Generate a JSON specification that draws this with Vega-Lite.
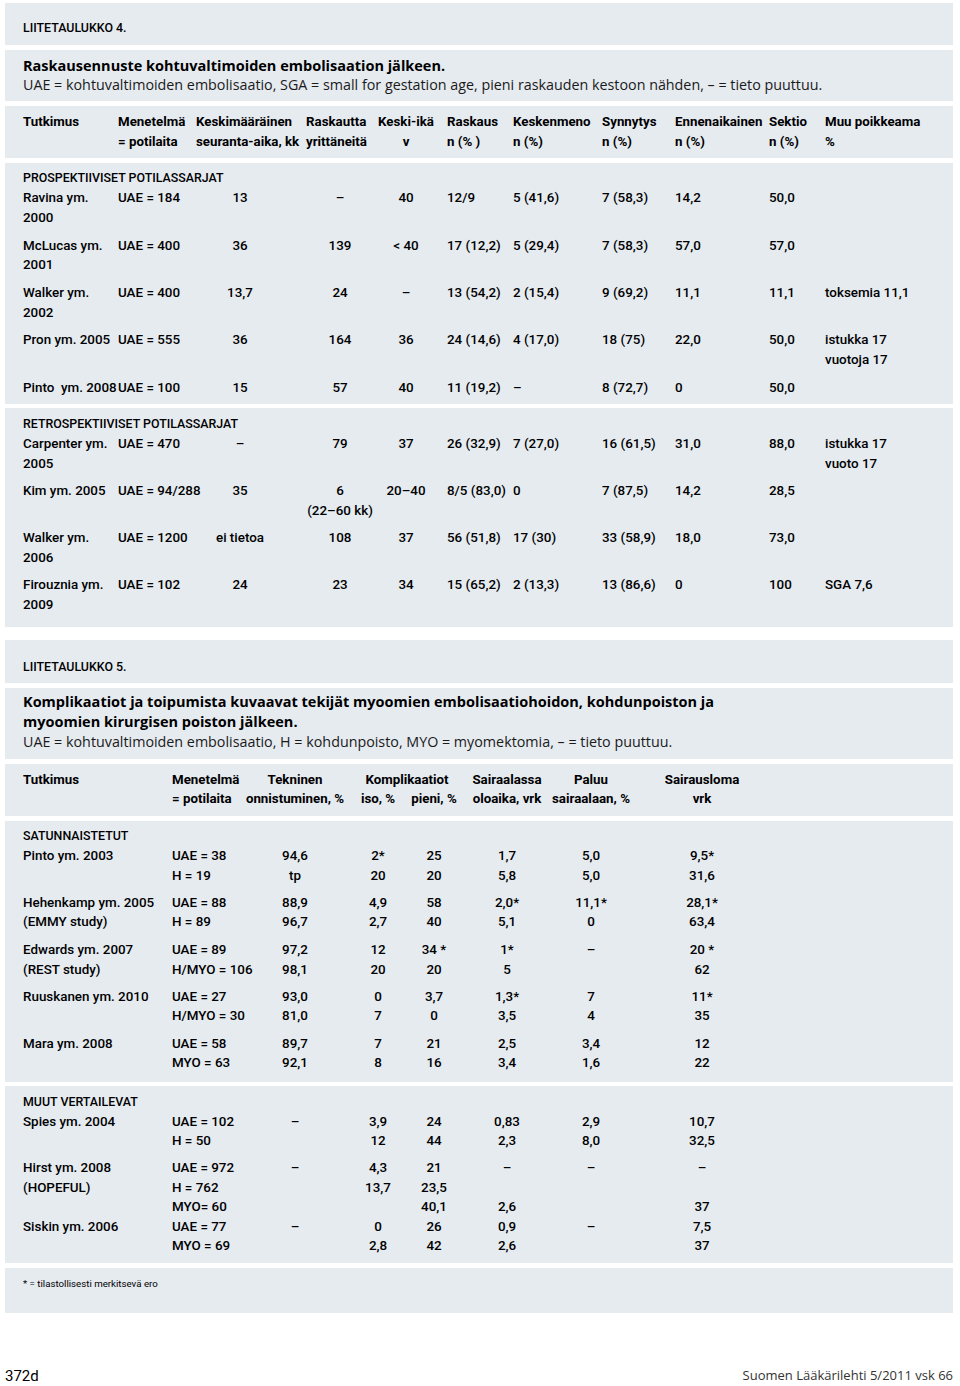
{
  "$schema": "https://vega.github.io/schema/vega-lite/v6.json",
  "width": 960,
  "height": 1386,
  "autosize": {"type": "fit", "contains": "padding"},
  "padding": 0,
  "background": "white",
  "config": {"view": {"stroke": null}},
  "resolve": {"scale": {"y": "independent"}},
  "datasets": {
    "boxes": [
      {"e1": 0, "e2": 1}, {"e1": 2, "e2": 3}, {"e1": 4, "e2": 5}, {"e1": 6, "e2": 7}, {"e1": 8, "e2": 9},
      {"e1": 10, "e2": 11}, {"e1": 12, "e2": 13}, {"e1": 14, "e2": 15}, {"e1": 16, "e2": 17}, {"e1": 18, "e2": 19}, {"e1": 20, "e2": 21}
    ],
    "cells": [
      {"r": 0, "c": 1, "k": "label", "s": "LIITETAULUKKO 4."},
      {"r": 1, "c": 1, "k": "title", "s": "Raskausennuste kohtuvaltimoiden embolisaation jälkeen."},
      {"r": 2, "c": 1, "k": "sub", "s": "UAE = kohtuvaltimoiden embolisaatio, SGA = small for gestation age, pieni raskauden kestoon nähden, – = tieto puuttuu."},
      {"r": 3, "c": 1, "k": "head", "s": "Tutkimus"},
      {"r": 3, "c": 2, "k": "head", "s": "Menetelmä"},
      {"r": 3, "c": 3, "k": "head", "s": "Keskimääräinen"},
      {"r": 3, "c": 4, "k": "head", "s": "Raskautta"},
      {"r": 3, "c": 23, "k": "head", "s": "Keski-ikä"},
      {"r": 3, "c": 5, "k": "head", "s": "Raskaus"},
      {"r": 3, "c": 6, "k": "head", "s": "Keskenmeno"},
      {"r": 3, "c": 7, "k": "head", "s": "Synnytys"},
      {"r": 3, "c": 8, "k": "head", "s": "Ennenaikainen"},
      {"r": 3, "c": 9, "k": "head", "s": "Sektio"},
      {"r": 3, "c": 10, "k": "head", "s": "Muu poikkeama"},
      {"r": 4, "c": 2, "k": "head", "s": "= potilaita"},
      {"r": 4, "c": 3, "k": "head", "s": "seuranta-aika, kk"},
      {"r": 4, "c": 4, "k": "head", "s": "yrittäneitä"},
      {"r": 4, "c": 23, "k": "head", "s": "v"},
      {"r": 4, "c": 5, "k": "head", "s": "n (% )"},
      {"r": 4, "c": 6, "k": "head", "s": "n (%)"},
      {"r": 4, "c": 7, "k": "head", "s": "n (%)"},
      {"r": 4, "c": 8, "k": "head", "s": "n (%)"},
      {"r": 4, "c": 9, "k": "head", "s": "n (%)"},
      {"r": 4, "c": 10, "k": "head", "s": "%"},
      {"r": 5, "c": 1, "k": "sect", "s": "PROSPEKTIIVISET POTILASSARJAT"},
      {"r": 6, "c": 1, "k": "body", "s": "Ravina ym."},
      {"r": 6, "c": 2, "k": "body", "s": "UAE = 184"},
      {"r": 6, "c": 21, "k": "body", "s": "13"},
      {"r": 6, "c": 22, "k": "body", "s": "–"},
      {"r": 6, "c": 23, "k": "body", "s": "40"},
      {"r": 6, "c": 5, "k": "body", "s": "12/9"},
      {"r": 6, "c": 6, "k": "body", "s": "5 (41,6)"},
      {"r": 6, "c": 7, "k": "body", "s": "7 (58,3)"},
      {"r": 6, "c": 8, "k": "body", "s": "14,2"},
      {"r": 6, "c": 9, "k": "body", "s": "50,0"},
      {"r": 7, "c": 1, "k": "body", "s": "2000"},
      {"r": 8, "c": 1, "k": "body", "s": "McLucas ym."},
      {"r": 8, "c": 2, "k": "body", "s": "UAE = 400"},
      {"r": 8, "c": 21, "k": "body", "s": "36"},
      {"r": 8, "c": 22, "k": "body", "s": "139"},
      {"r": 8, "c": 23, "k": "body", "s": "< 40"},
      {"r": 8, "c": 5, "k": "body", "s": "17 (12,2)"},
      {"r": 8, "c": 6, "k": "body", "s": "5 (29,4)"},
      {"r": 8, "c": 7, "k": "body", "s": "7 (58,3)"},
      {"r": 8, "c": 8, "k": "body", "s": "57,0"},
      {"r": 8, "c": 9, "k": "body", "s": "57,0"},
      {"r": 9, "c": 1, "k": "body", "s": "2001"},
      {"r": 10, "c": 1, "k": "body", "s": "Walker ym."},
      {"r": 10, "c": 2, "k": "body", "s": "UAE = 400"},
      {"r": 10, "c": 21, "k": "body", "s": "13,7"},
      {"r": 10, "c": 22, "k": "body", "s": "24"},
      {"r": 10, "c": 23, "k": "body", "s": "–"},
      {"r": 10, "c": 5, "k": "body", "s": "13 (54,2)"},
      {"r": 10, "c": 6, "k": "body", "s": "2 (15,4)"},
      {"r": 10, "c": 7, "k": "body", "s": "9 (69,2)"},
      {"r": 10, "c": 8, "k": "body", "s": "11,1"},
      {"r": 10, "c": 9, "k": "body", "s": "11,1"},
      {"r": 10, "c": 10, "k": "body", "s": "toksemia 11,1"},
      {"r": 11, "c": 1, "k": "body", "s": "2002"},
      {"r": 12, "c": 1, "k": "body", "s": "Pron ym. 2005"},
      {"r": 12, "c": 2, "k": "body", "s": "UAE = 555"},
      {"r": 12, "c": 21, "k": "body", "s": "36"},
      {"r": 12, "c": 22, "k": "body", "s": "164"},
      {"r": 12, "c": 23, "k": "body", "s": "36"},
      {"r": 12, "c": 5, "k": "body", "s": "24 (14,6)"},
      {"r": 12, "c": 6, "k": "body", "s": "4 (17,0)"},
      {"r": 12, "c": 7, "k": "body", "s": "18 (75)"},
      {"r": 12, "c": 8, "k": "body", "s": "22,0"},
      {"r": 12, "c": 9, "k": "body", "s": "50,0"},
      {"r": 12, "c": 10, "k": "body", "s": "istukka 17"},
      {"r": 13, "c": 10, "k": "body", "s": "vuotoja 17"},
      {"r": 14, "c": 1, "k": "body", "s": "Pinto\u00a0 ym. 2008"},
      {"r": 14, "c": 2, "k": "body", "s": "UAE = 100"},
      {"r": 14, "c": 21, "k": "body", "s": "15"},
      {"r": 14, "c": 22, "k": "body", "s": "57"},
      {"r": 14, "c": 23, "k": "body", "s": "40"},
      {"r": 14, "c": 5, "k": "body", "s": "11 (19,2)"},
      {"r": 14, "c": 6, "k": "body", "s": "–"},
      {"r": 14, "c": 7, "k": "body", "s": "8 (72,7)"},
      {"r": 14, "c": 8, "k": "body", "s": "0"},
      {"r": 14, "c": 9, "k": "body", "s": "50,0"},
      {"r": 15, "c": 1, "k": "sect", "s": "RETROSPEKTIIVISET POTILASSARJAT"},
      {"r": 16, "c": 1, "k": "body", "s": "Carpenter ym."},
      {"r": 16, "c": 2, "k": "body", "s": "UAE = 470"},
      {"r": 16, "c": 21, "k": "body", "s": "–"},
      {"r": 16, "c": 22, "k": "body", "s": "79"},
      {"r": 16, "c": 23, "k": "body", "s": "37"},
      {"r": 16, "c": 5, "k": "body", "s": "26 (32,9)"},
      {"r": 16, "c": 6, "k": "body", "s": "7 (27,0)"},
      {"r": 16, "c": 7, "k": "body", "s": "16 (61,5)"},
      {"r": 16, "c": 8, "k": "body", "s": "31,0"},
      {"r": 16, "c": 9, "k": "body", "s": "88,0"},
      {"r": 16, "c": 10, "k": "body", "s": "istukka 17"},
      {"r": 17, "c": 1, "k": "body", "s": "2005"},
      {"r": 17, "c": 10, "k": "body", "s": "vuoto 17"},
      {"r": 18, "c": 1, "k": "body", "s": "Kim ym. 2005"},
      {"r": 18, "c": 2, "k": "body", "s": "UAE = 94/288"},
      {"r": 18, "c": 21, "k": "body", "s": "35"},
      {"r": 18, "c": 22, "k": "body", "s": "6"},
      {"r": 18, "c": 23, "k": "body", "s": "20–40"},
      {"r": 18, "c": 5, "k": "body", "s": "8/5 (83,0)"},
      {"r": 18, "c": 6, "k": "body", "s": "0"},
      {"r": 18, "c": 7, "k": "body", "s": "7 (87,5)"},
      {"r": 18, "c": 8, "k": "body", "s": "14,2"},
      {"r": 18, "c": 9, "k": "body", "s": "28,5"},
      {"r": 19, "c": 22, "k": "body", "s": "(22–60 kk)"},
      {"r": 20, "c": 1, "k": "body", "s": "Walker ym."},
      {"r": 20, "c": 2, "k": "body", "s": "UAE = 1200"},
      {"r": 20, "c": 21, "k": "body", "s": "ei tietoa"},
      {"r": 20, "c": 22, "k": "body", "s": "108"},
      {"r": 20, "c": 23, "k": "body", "s": "37"},
      {"r": 20, "c": 5, "k": "body", "s": "56 (51,8)"},
      {"r": 20, "c": 6, "k": "body", "s": "17 (30)"},
      {"r": 20, "c": 7, "k": "body", "s": "33 (58,9)"},
      {"r": 20, "c": 8, "k": "body", "s": "18,0"},
      {"r": 20, "c": 9, "k": "body", "s": "73,0"},
      {"r": 21, "c": 1, "k": "body", "s": "2006"},
      {"r": 22, "c": 1, "k": "body", "s": "Firouznia ym."},
      {"r": 22, "c": 2, "k": "body", "s": "UAE = 102"},
      {"r": 22, "c": 21, "k": "body", "s": "24"},
      {"r": 22, "c": 22, "k": "body", "s": "23"},
      {"r": 22, "c": 23, "k": "body", "s": "34"},
      {"r": 22, "c": 5, "k": "body", "s": "15 (65,2)"},
      {"r": 22, "c": 6, "k": "body", "s": "2 (13,3)"},
      {"r": 22, "c": 7, "k": "body", "s": "13 (86,6)"},
      {"r": 22, "c": 8, "k": "body", "s": "0"},
      {"r": 22, "c": 9, "k": "body", "s": "100"},
      {"r": 22, "c": 10, "k": "body", "s": "SGA 7,6"},
      {"r": 23, "c": 1, "k": "body", "s": "2009"},

      {"r": 24, "c": 1, "k": "label", "s": "LIITETAULUKKO 5."},
      {"r": 25, "c": 1, "k": "title", "s": "Komplikaatiot ja toipumista kuvaavat tekijät myoomien embolisaatiohoidon, kohdunpoiston ja"},
      {"r": 26, "c": 1, "k": "title", "s": "myoomien kirurgisen poiston jälkeen."},
      {"r": 27, "c": 1, "k": "sub", "s": "UAE = kohtuvaltimoiden embolisaatio, H = kohdunpoisto, MYO = myomektomia, – = tieto puuttuu."},
      {"r": 28, "c": 1, "k": "head", "s": "Tutkimus"},
      {"r": 28, "c": 11, "k": "head", "s": "Menetelmä"},
      {"r": 28, "c": 24, "k": "head", "s": "Tekninen"},
      {"r": 28, "c": 25, "k": "head", "s": "Komplikaatiot"},
      {"r": 28, "c": 28, "k": "head", "s": "Sairaalassa"},
      {"r": 28, "c": 29, "k": "head", "s": "Paluu"},
      {"r": 28, "c": 30, "k": "head", "s": "Sairausloma"},
      {"r": 29, "c": 11, "k": "head", "s": "= potilaita"},
      {"r": 29, "c": 24, "k": "head", "s": "onnistuminen, %"},
      {"r": 29, "c": 26, "k": "head", "s": "iso, %"},
      {"r": 29, "c": 27, "k": "head", "s": "pieni, %"},
      {"r": 29, "c": 28, "k": "head", "s": "oloaika, vrk"},
      {"r": 29, "c": 29, "k": "head", "s": "sairaalaan, %"},
      {"r": 29, "c": 30, "k": "head", "s": "vrk"},
      {"r": 30, "c": 1, "k": "sect", "s": "SATUNNAISTETUT"},
      {"r": 31, "c": 1, "k": "body", "s": "Pinto ym. 2003"},
      {"r": 31, "c": 11, "k": "body", "s": "UAE = 38"},
      {"r": 31, "c": 24, "k": "body", "s": "94,6"},
      {"r": 31, "c": 26, "k": "body", "s": "2*"},
      {"r": 31, "c": 27, "k": "body", "s": "25"},
      {"r": 31, "c": 28, "k": "body", "s": "1,7"},
      {"r": 31, "c": 29, "k": "body", "s": "5,0"},
      {"r": 31, "c": 30, "k": "body", "s": "9,5*"},
      {"r": 32, "c": 11, "k": "body", "s": "H = 19"},
      {"r": 32, "c": 24, "k": "body", "s": "tp"},
      {"r": 32, "c": 26, "k": "body", "s": "20"},
      {"r": 32, "c": 27, "k": "body", "s": "20"},
      {"r": 32, "c": 28, "k": "body", "s": "5,8"},
      {"r": 32, "c": 29, "k": "body", "s": "5,0"},
      {"r": 32, "c": 30, "k": "body", "s": "31,6"},
      {"r": 33, "c": 1, "k": "body", "s": "Hehenkamp ym. 2005"},
      {"r": 33, "c": 11, "k": "body", "s": "UAE = 88"},
      {"r": 33, "c": 24, "k": "body", "s": "88,9"},
      {"r": 33, "c": 26, "k": "body", "s": "4,9"},
      {"r": 33, "c": 27, "k": "body", "s": "58"},
      {"r": 33, "c": 28, "k": "body", "s": "2,0*"},
      {"r": 33, "c": 29, "k": "body", "s": "11,1*"},
      {"r": 33, "c": 30, "k": "body", "s": "28,1*"},
      {"r": 34, "c": 1, "k": "body", "s": "(EMMY study)"},
      {"r": 34, "c": 11, "k": "body", "s": "H = 89"},
      {"r": 34, "c": 24, "k": "body", "s": "96,7"},
      {"r": 34, "c": 26, "k": "body", "s": "2,7"},
      {"r": 34, "c": 27, "k": "body", "s": "40"},
      {"r": 34, "c": 28, "k": "body", "s": "5,1"},
      {"r": 34, "c": 29, "k": "body", "s": "0"},
      {"r": 34, "c": 30, "k": "body", "s": "63,4"},
      {"r": 35, "c": 1, "k": "body", "s": "Edwards ym. 2007"},
      {"r": 35, "c": 11, "k": "body", "s": "UAE = 89"},
      {"r": 35, "c": 24, "k": "body", "s": "97,2"},
      {"r": 35, "c": 26, "k": "body", "s": "12"},
      {"r": 35, "c": 27, "k": "body", "s": "34 *"},
      {"r": 35, "c": 28, "k": "body", "s": "1*"},
      {"r": 35, "c": 29, "k": "body", "s": "–"},
      {"r": 35, "c": 30, "k": "body", "s": "20 *"},
      {"r": 36, "c": 1, "k": "body", "s": "(REST study)"},
      {"r": 36, "c": 11, "k": "body", "s": "H/MYO = 106"},
      {"r": 36, "c": 24, "k": "body", "s": "98,1"},
      {"r": 36, "c": 26, "k": "body", "s": "20"},
      {"r": 36, "c": 27, "k": "body", "s": "20"},
      {"r": 36, "c": 28, "k": "body", "s": "5"},
      {"r": 36, "c": 30, "k": "body", "s": "62"},
      {"r": 37, "c": 1, "k": "body", "s": "Ruuskanen ym. 2010"},
      {"r": 37, "c": 11, "k": "body", "s": "UAE = 27"},
      {"r": 37, "c": 24, "k": "body", "s": "93,0"},
      {"r": 37, "c": 26, "k": "body", "s": "0"},
      {"r": 37, "c": 27, "k": "body", "s": "3,7"},
      {"r": 37, "c": 28, "k": "body", "s": "1,3*"},
      {"r": 37, "c": 29, "k": "body", "s": "7"},
      {"r": 37, "c": 30, "k": "body", "s": "11*"},
      {"r": 38, "c": 11, "k": "body", "s": "H/MYO = 30"},
      {"r": 38, "c": 24, "k": "body", "s": "81,0"},
      {"r": 38, "c": 26, "k": "body", "s": "7"},
      {"r": 38, "c": 27, "k": "body", "s": "0"},
      {"r": 38, "c": 28, "k": "body", "s": "3,5"},
      {"r": 38, "c": 29, "k": "body", "s": "4"},
      {"r": 38, "c": 30, "k": "body", "s": "35"},
      {"r": 39, "c": 1, "k": "body", "s": "Mara ym. 2008"},
      {"r": 39, "c": 11, "k": "body", "s": "UAE = 58"},
      {"r": 39, "c": 24, "k": "body", "s": "89,7"},
      {"r": 39, "c": 26, "k": "body", "s": "7"},
      {"r": 39, "c": 27, "k": "body", "s": "21"},
      {"r": 39, "c": 28, "k": "body", "s": "2,5"},
      {"r": 39, "c": 29, "k": "body", "s": "3,4"},
      {"r": 39, "c": 30, "k": "body", "s": "12"},
      {"r": 40, "c": 11, "k": "body", "s": "MYO = 63"},
      {"r": 40, "c": 24, "k": "body", "s": "92,1"},
      {"r": 40, "c": 26, "k": "body", "s": "8"},
      {"r": 40, "c": 27, "k": "body", "s": "16"},
      {"r": 40, "c": 28, "k": "body", "s": "3,4"},
      {"r": 40, "c": 29, "k": "body", "s": "1,6"},
      {"r": 40, "c": 30, "k": "body", "s": "22"},
      {"r": 41, "c": 1, "k": "sect", "s": "MUUT VERTAILEVAT"},
      {"r": 42, "c": 1, "k": "body", "s": "Spies ym. 2004"},
      {"r": 42, "c": 11, "k": "body", "s": "UAE = 102"},
      {"r": 42, "c": 24, "k": "body", "s": "–"},
      {"r": 42, "c": 26, "k": "body", "s": "3,9"},
      {"r": 42, "c": 27, "k": "body", "s": "24"},
      {"r": 42, "c": 28, "k": "body", "s": "0,83"},
      {"r": 42, "c": 29, "k": "body", "s": "2,9"},
      {"r": 42, "c": 30, "k": "body", "s": "10,7"},
      {"r": 43, "c": 11, "k": "body", "s": "H = 50"},
      {"r": 43, "c": 26, "k": "body", "s": "12"},
      {"r": 43, "c": 27, "k": "body", "s": "44"},
      {"r": 43, "c": 28, "k": "body", "s": "2,3"},
      {"r": 43, "c": 29, "k": "body", "s": "8,0"},
      {"r": 43, "c": 30, "k": "body", "s": "32,5"},
      {"r": 44, "c": 1, "k": "body", "s": "Hirst ym. 2008"},
      {"r": 44, "c": 11, "k": "body", "s": "UAE = 972"},
      {"r": 44, "c": 24, "k": "body", "s": "–"},
      {"r": 44, "c": 26, "k": "body", "s": "4,3"},
      {"r": 44, "c": 27, "k": "body", "s": "21"},
      {"r": 44, "c": 28, "k": "body", "s": "–"},
      {"r": 44, "c": 29, "k": "body", "s": "–"},
      {"r": 44, "c": 30, "k": "body", "s": "–"},
      {"r": 45, "c": 1, "k": "body", "s": "(HOPEFUL)"},
      {"r": 45, "c": 11, "k": "body", "s": "H = 762"},
      {"r": 45, "c": 26, "k": "body", "s": "13,7"},
      {"r": 45, "c": 27, "k": "body", "s": "23,5"},
      {"r": 46, "c": 11, "k": "body", "s": "MYO= 60"},
      {"r": 46, "c": 27, "k": "body", "s": "40,1"},
      {"r": 46, "c": 28, "k": "body", "s": "2,6"},
      {"r": 46, "c": 30, "k": "body", "s": "37"},
      {"r": 47, "c": 1, "k": "body", "s": "Siskin ym. 2006"},
      {"r": 47, "c": 11, "k": "body", "s": "UAE = 77"},
      {"r": 47, "c": 24, "k": "body", "s": "–"},
      {"r": 47, "c": 26, "k": "body", "s": "0"},
      {"r": 47, "c": 27, "k": "body", "s": "26"},
      {"r": 47, "c": 28, "k": "body", "s": "0,9"},
      {"r": 47, "c": 29, "k": "body", "s": "–"},
      {"r": 47, "c": 30, "k": "body", "s": "7,5"},
      {"r": 48, "c": 11, "k": "body", "s": "MYO = 69"},
      {"r": 48, "c": 26, "k": "body", "s": "2,8"},
      {"r": 48, "c": 27, "k": "body", "s": "42"},
      {"r": 48, "c": 28, "k": "body", "s": "2,6"},
      {"r": 48, "c": 30, "k": "body", "s": "37"},
      {"r": 49, "c": 1, "k": "note", "s": "* = tilastollisesti merkitsevä ero"},
      {"r": 50, "c": 40, "k": "page", "s": "372d"},
      {"r": 50, "c": 41, "k": "journal", "s": "Suomen Lääkärilehti 5/2011 vsk 66"}
    ]
  },
  "layer": [
    {
      "data": {"name": "boxes"},
      "mark": {"type": "rect", "fill": "#e6ebf0"},
      "encoding": {
        "x": {"datum": 40, "type": "quantitative", "axis": null,
              "scale": {"type": "linear", "nice": false, "zero": false,
                        "domain": [1,2,3,4,5,6,7,8,9,10,11,21,22,23,24,25,26,27,28,29,30,40,41],
                        "range": [23,118,196,306,447,513,602,675,769,825,172,240,340,406,295,407,378,434,507,591,702,5,953]}},
        "x2": {"datum": 41},
        "y": {"field": "e1", "type": "quantitative", "axis": null,
              "scale": {"type": "linear", "nice": false, "zero": false,
                        "domain": [0,1,2,3,4,5,6,7,8,9,10,11,12,13,14,15,16,17,18,19,20,21],
                        "range": [3,45,50,101,106,158,163,404,408,627,640,683,688,759,764,816,821,1082,1086,1263,1268,1313]}},
        "y2": {"field": "e2"}
      }
    },
    {
      "data": {"name": "cells"},
      "encoding": {
        "x": {"field": "c", "type": "quantitative", "axis": null,
              "scale": {"type": "linear", "nice": false, "zero": false,
                        "domain": [1,2,3,4,5,6,7,8,9,10,11,21,22,23,24,25,26,27,28,29,30,40,41],
                        "range": [23,118,196,306,447,513,602,675,769,825,172,240,340,406,295,407,378,434,507,591,702,5,953]}},
        "y": {"field": "r", "type": "quantitative", "axis": null,
              "scale": {"type": "linear", "nice": false, "zero": false,
                        "domain": [0,1,2,3,4,5,6,7,8,9,10,11,12,13,14,15,16,17,18,19,20,21,22,23,24,25,26,27,28,29,30,31,32,33,34,35,36,37,38,39,40,41,42,43,44,45,46,47,48,49,50],
                        "range": [28,67,86,122,142,178,198,218,245.5,265,293,312.5,340,360,387.5,424,444,464,491,511,538,558,585,605,667,703,722.5,743,780,799,836,856,875.5,903,922,950,969.5,997,1016,1044,1063,1101.5,1121.5,1141,1168,1188,1207,1227,1246,1284,1376]}},
        "text": {"field": "s"}
      },
      "layer": [
        {
          "transform": [{"filter": "datum.k == 'body' && datum.c <= 11"}],
          "mark": {"type": "text", "align": "left", "baseline": "middle", "font": "Roboto", "fontSize": 13.4, "fontWeight": 500, "fill": "#000000"}
        },
        {
          "transform": [{"filter": "datum.k == 'body' && datum.c >= 21 && datum.c <= 30"}],
          "mark": {"type": "text", "align": "center", "baseline": "middle", "font": "Roboto", "fontSize": 13.4, "fontWeight": 500, "fill": "#000000"}
        },
        {
          "transform": [{"filter": "datum.k == 'sect' || datum.k == 'label'"}],
          "mark": {"type": "text", "align": "left", "baseline": "middle", "font": "Roboto", "fontSize": 12.4, "fontWeight": 500, "fill": "#000000"}
        },
        {
          "transform": [{"filter": "datum.k == 'head' && datum.c <= 11"}],
          "mark": {"type": "text", "align": "left", "baseline": "middle", "font": "Roboto", "fontSize": 13.3, "fontWeight": "bold", "fill": "#000000"}
        },
        {
          "transform": [{"filter": "datum.k == 'head' && datum.c >= 21 && datum.c <= 30"}],
          "mark": {"type": "text", "align": "center", "baseline": "middle", "font": "Roboto", "fontSize": 13.3, "fontWeight": "bold", "fill": "#000000"}
        },
        {
          "transform": [{"filter": "datum.k == 'title'"}],
          "mark": {"type": "text", "align": "left", "baseline": "middle", "font": "Open Sans", "fontSize": 14.5, "fontWeight": "bold", "fill": "#000000"}
        },
        {
          "transform": [{"filter": "datum.k == 'sub'"}],
          "mark": {"type": "text", "align": "left", "baseline": "middle", "font": "Open Sans", "fontSize": 14.3, "fill": "#1a1a1a"}
        },
        {
          "transform": [{"filter": "datum.k == 'note'"}],
          "mark": {"type": "text", "align": "left", "baseline": "middle", "font": "Roboto", "fontSize": 9.7, "fill": "#000000"}
        },
        {
          "transform": [{"filter": "datum.k == 'page'"}],
          "mark": {"type": "text", "align": "left", "baseline": "middle", "font": "Roboto", "fontSize": 15, "fill": "#000000"}
        },
        {
          "transform": [{"filter": "datum.k == 'journal'"}],
          "mark": {"type": "text", "align": "right", "baseline": "middle", "font": "Open Sans", "fontSize": 13, "fill": "#333333"}
        }
      ]
    }
  ]
}
